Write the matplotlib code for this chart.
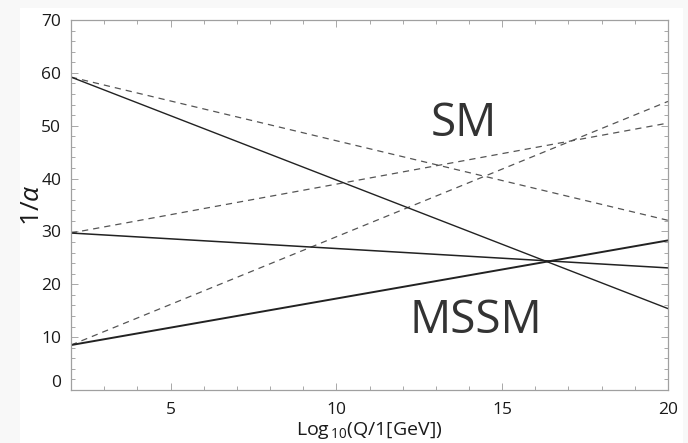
import matplotlib
matplotlib.use("Agg")
import matplotlib.pyplot as plt
import matplotlib.transforms as mtransforms
from matplotlib.patches import Rectangle
from matplotlib.ticker import MultipleLocator, FixedLocator

# Data: log10(Q/GeV) range and 1/alpha at both ends
x_ends = [2, 20]
mssm_lines = {
    "a1": [59.2, 15.4],
    "a2": [29.7, 23.1],
    "a3": [8.5, 28.3],
}
sm_lines = {
    "a1": [59.2, 32.1],
    "a2": [29.7, 50.5],
    "a3": [8.5, 54.6],
}
x_ticks = [5, 10, 15, 20]
y_ticks = [0, 10, 20, 30, 40, 50, 60, 70]

plt.rcParams['font.family'] = ['Open Sans', 'DejaVu Sans']
plt.rcParams['mathtext.fontset'] = 'custom'
plt.rcParams['mathtext.rm'] = 'Open Sans'
plt.rcParams['mathtext.it'] = 'Open Sans:italic'

fig = plt.figure(figsize=(6.88, 4.43), dpi=100)
fig.patch.set_facecolor('#f8f8f8')
bg = Rectangle((20/688, 0), (683-20)/688, (443-8)/443,
               transform=fig.transFigure, facecolor='white',
               edgecolor='none', zorder=-10)
fig.patches.append(bg)

ax = fig.add_axes([71/688, 53/443, (668-71)/688, (390-20)/443])
ax.set_facecolor('white')
ax.set_zorder(1)

for k, v in sm_lines.items():
    ax.plot(x_ends, v, color='#555555', lw=0.9, dashes=(5, 4))
lw_m = {"a1": 1.0, "a2": 1.1, "a3": 1.4}
for k, v in mssm_lines.items():
    ax.plot(x_ends, v, color='#222222', lw=lw_m[k])

ax.set_xlim(2, 20)
ax.set_ylim(0, 70)
ax.xaxis.set_major_locator(FixedLocator(x_ticks))
ax.yaxis.set_major_locator(FixedLocator(y_ticks))
ax.xaxis.set_minor_locator(MultipleLocator(1))
ax.yaxis.set_minor_locator(MultipleLocator(2))
for s in ax.spines.values():
    s.set_color('#a0a0a0')
    s.set_linewidth(0.9)
ax.tick_params(which='both', direction='in', top=True, right=True,
               color='#a8a8a8', width=0.7, labelcolor='#1a1a1a', labelsize=12.5)
ax.tick_params(which='major', length=5)
ax.tick_params(which='minor', length=3)
ax.tick_params(axis='x', pad=9)
ax.tick_params(axis='y', pad=7)

fig.canvas.draw()
# shift the "0" label up, as in the reference
for lab in ax.get_yticklabels():
    if lab.get_text() == '0':
        lab.set_transform(lab.get_transform() +
                          mtransforms.ScaledTranslation(0, 9/100, fig.dpi_scale_trans))

ax.set_xlabel('Log$_{\\,10}$(Q/1[GeV])', fontsize=14, color='#1a1a1a', labelpad=1)
ax.set_ylabel('1/$\\mathit{\\alpha}$', fontsize=19, color='#1a1a1a', labelpad=-3)

ax.text(13.85, 50.3, 'SM', fontsize=33, color='#333333', ha='center', va='center')
ax.text(14.2, 13.0, 'MSSM', fontsize=33, color='#333333', ha='center', va='center')

fig.savefig('out.png', dpi=100, facecolor=fig.get_facecolor())
